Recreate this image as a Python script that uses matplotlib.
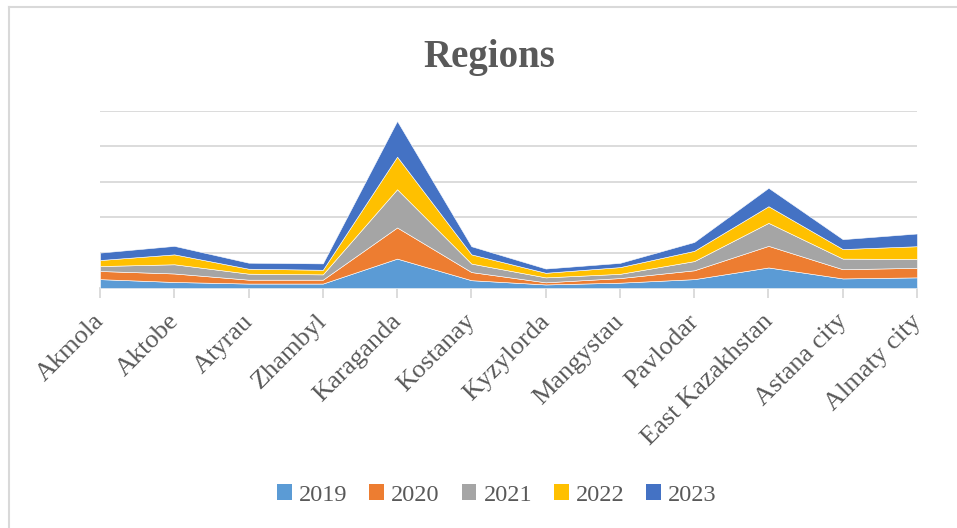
import matplotlib.pyplot as plt
import numpy as np
from matplotlib.lines import Line2D
from matplotlib.patches import Patch
from matplotlib.transforms import ScaledTranslation

regions = ["Akmola", "Aktobe", "Atyrau", "Zhambyl", "Karaganda", "Kostanay",
           "Kyzylorda", "Mangystau", "Pavlodar", "East Kazakhstan",
           "Astana city", "Almaty city"]
years = ["2019", "2020", "2021", "2022", "2023"]

y2019 = [25, 17, 12.5, 12.5, 83, 22, 10, 15, 25, 58, 27, 30]
y2020 = [23, 24, 11, 11, 88, 23, 6, 13, 25, 61, 26, 27]
y2021 = [14, 26, 17, 15, 108, 24, 14, 12, 26, 65, 30, 25]
y2022 = [17, 28, 14, 13, 92, 26, 13, 19, 29, 47, 27, 36]
y2023 = [21, 24, 17, 18, 101, 23, 12, 12, 25, 52, 28, 36]

colors = ["#5B9BD5", "#ED7D31", "#A5A5A5", "#FFC000", "#4472C4"]
text_col = "#595959"
grid_col = "#D9D9D9"

plt.rcParams['font.family'] = ['Liberation Serif', 'DejaVu Serif']

fig = plt.figure(figsize=(9.57, 5.28), dpi=100)
ax = fig.add_axes([100 / 957, 1 - 288 / 528, 817 / 957, 177 / 528])

x = np.arange(len(regions))
ax.stackplot(x, y2019, y2020, y2021, y2022, y2023, colors=colors,
             edgecolor="white", linewidth=0.4, zorder=3)

ax.set_xlim(0, len(regions) - 1)
ax.set_ylim(0, 500)
ax.set_yticks(np.arange(0, 501, 100))
ax.yaxis.grid(True, color=grid_col, linewidth=1.3, zorder=0)
ax.tick_params(axis='y', left=False, labelleft=False)

ax.set_xticks(x)
ax.set_xticklabels(regions, rotation=45, ha='right', va='top',
                   rotation_mode='anchor', fontsize=19, color=text_col)
ax.tick_params(axis='x', direction='out', length=7, width=1.3,
               color=grid_col, pad=9)
shift = ScaledTranslation(-7 / 100, 0, fig.dpi_scale_trans)
for lab in ax.get_xticklabels():
    lab.set_transform(lab.get_transform() + shift)
for side in ("left", "right", "top"):
    ax.spines[side].set_visible(False)
ax.spines["bottom"].set_color(grid_col)
ax.spines["bottom"].set_linewidth(1.3)
ax.set_axisbelow(True)

fig.text(489 / 957, 1 - 66.7 / 528, "Regions", ha='center', va='baseline',
         fontsize=28, fontweight='bold', color=text_col)

handles = [Patch(facecolor=c, edgecolor='none') for c in colors]
fig.legend(handles, years, loc='center', bbox_to_anchor=(497 / 957, 1 - 495 / 528),
           ncol=5, frameon=False, fontsize=17.5, labelcolor=text_col,
           handlelength=0.6, handleheight=0.6, handletextpad=0.3,
           columnspacing=0.9)

# chart border (cropped on the right and bottom)
fig.add_artist(Line2D([9 / 957, 9 / 957], [0, 1 - 7 / 528], color=grid_col,
                      linewidth=1.5, transform=fig.transFigure))
fig.add_artist(Line2D([9 / 957, 1], [1 - 7 / 528, 1 - 7 / 528], color=grid_col,
                      linewidth=1.5, transform=fig.transFigure))

fig.savefig("out.png", dpi=100)
